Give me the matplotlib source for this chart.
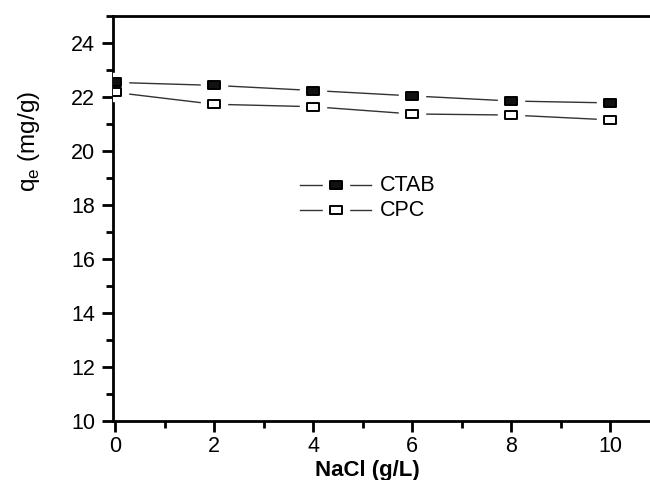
import numpy as np
import matplotlib.pyplot as plt
from matplotlib.path import Path
from matplotlib.ticker import MultipleLocator

plt.rcParams['font.family'] = ['Liberation Sans', 'DejaVu Sans']
plt.rcParams['mathtext.fontset'] = 'custom'
plt.rcParams['mathtext.rm'] = 'Liberation Sans'

nacl = [0, 2, 4, 6, 8, 10]
ctab = [22.55, 22.44, 22.25, 22.05, 21.86, 21.79]
cpc = [22.18, 21.74, 21.65, 21.38, 21.34, 21.16]
labels = ['CTAB', 'CPC']

# slightly wide square marker, like the stretched original
box = Path([(-1.45, -1), (1.45, -1), (1.45, 1), (-1.45, 1), (-1.45, -1)],
           [Path.MOVETO, Path.LINETO, Path.LINETO, Path.LINETO, Path.CLOSEPOLY])

fig = plt.figure(figsize=(6.5, 4.8), dpi=100)
ax = fig.add_axes([0.174, 0.123, 0.826, 0.843])

styles = [dict(mfc='#111111'), dict(mfc='white')]
for ys, st in zip([ctab, cpc], styles):
    ax.plot(nacl, ys, color='#333333', lw=1.0, zorder=2)
    ax.plot(nacl, ys, ls='none', marker=box, ms=19, mfc='white', mec='white', zorder=3)
    ax.plot(nacl, ys, ls='none', marker=box, ms=9, mec='black', mew=1.4, zorder=4, **st)

# legend, drawn in axes fractions
for ly, lab, st in zip([0.583, 0.521], labels, styles):
    ax.plot([0.348, 0.481], [ly, ly], color='#333333', lw=1.0, transform=ax.transAxes, zorder=2)
    ax.plot([0.415], [ly], ls='none', marker=box, ms=19, mfc='white', mec='white',
            transform=ax.transAxes, zorder=3)
    ax.plot([0.415], [ly], ls='none', marker=box, ms=8.5, mec='black', mew=1.4,
            transform=ax.transAxes, zorder=4, **st)
    ax.text(0.497, ly, lab, transform=ax.transAxes, fontsize=15.5, va='center', ha='left')

ax.set_xlim(-0.04, 10.8)
ax.set_ylim(10, 25)
ax.xaxis.set_major_locator(MultipleLocator(2))
ax.xaxis.set_minor_locator(MultipleLocator(1))
ax.yaxis.set_major_locator(MultipleLocator(2))
ax.yaxis.set_minor_locator(MultipleLocator(1))
ax.tick_params(which='major', direction='out', length=8, width=2, labelsize=15.5, colors='black')
ax.tick_params(which='minor', direction='out', length=5, width=2)
ax.tick_params(axis='x', pad=3)
ax.tick_params(axis='y', pad=5)

for side in ['left', 'bottom', 'top']:
    ax.spines[side].set_linewidth(2)
ax.spines['right'].set_visible(False)

ax.set_xlabel('NaCl (g/L)', fontsize=16, fontweight='bold')
ax.xaxis.set_label_coords(0.473, -0.097)
ax.set_ylabel(r'q$_\mathregular{e}$ (mg/g)', fontsize=17.5)
ax.yaxis.set_label_coords(-0.133, 0.69)

fig.savefig('out.png', dpi=100)
